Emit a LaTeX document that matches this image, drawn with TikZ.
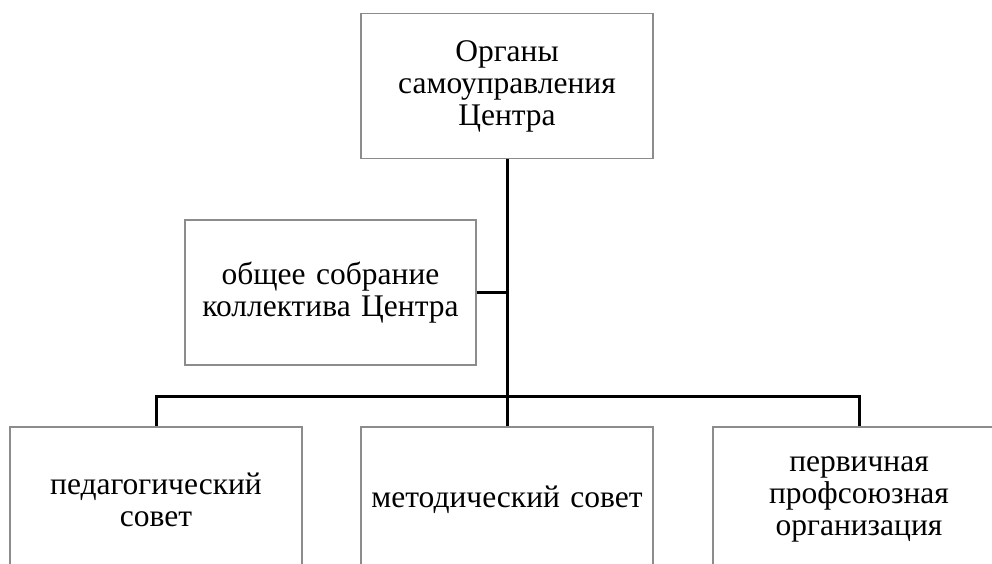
\documentclass[tikz,border=0pt]{standalone}
\usepackage{fontspec}
\setmainfont{Liberation Serif}
\begin{document}
\begin{tikzpicture}[x=1pt,y=-1pt,
  box/.style={draw=black!45,line width=1.5pt,minimum width=292pt,minimum height=145pt,
    align=center,text width=285pt,inner sep=0pt,font=\fontsize{31.5}{32}\selectfont},
  conn/.style={draw=black,line width=3pt}]
\useasboundingbox (0,0) rectangle (992,564);
\clip (0,0) rectangle (992,564);
\node[box] (top) at (507,86) {Органы\\самоуправления\\Центра};
\node[box,minimum width=291pt] (gen) at (330.5,292.5) {общее собрание\\коллектива Центра};
\node[box] (b1) at (156,499.5) {педагогический\\совет};
\node[box] (b2) at (507,499.5) {методический совет};
\node[box] (b3) at (859,499.5) {первичная\\профсоюзная\\организация};
\coordinate (j) at (507,396);
\draw[conn] (top.south) -- (j);
\draw[conn] (gen.east) -- (gen.east -| top.south);
\draw[conn] (b1.north) |- (j) -| (b3.north);
\draw[conn] (j) -- (b2.north);
\end{tikzpicture}
\end{document}
